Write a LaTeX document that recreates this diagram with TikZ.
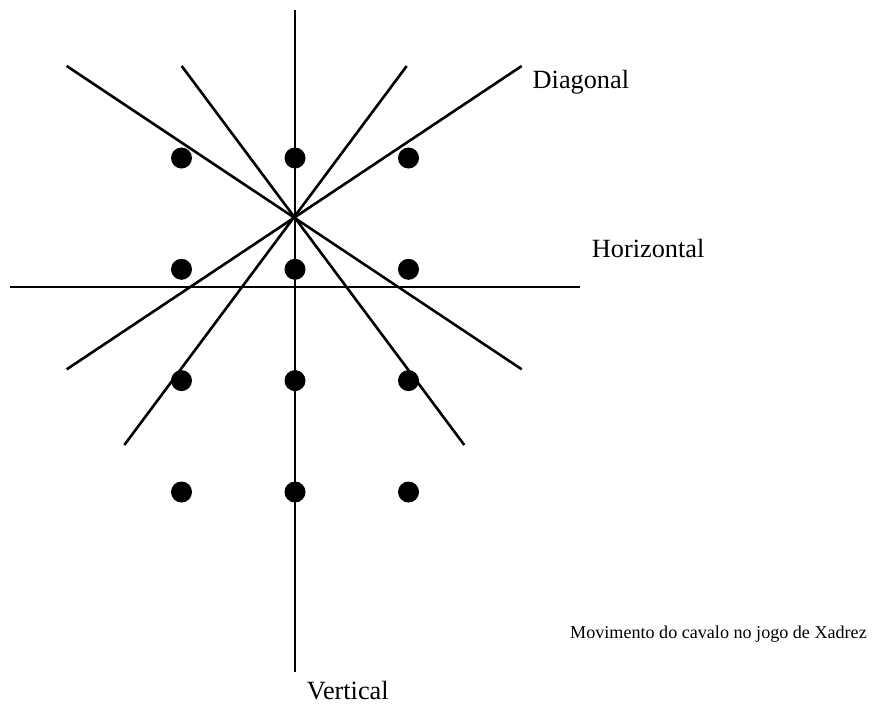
\documentclass[tikz,border=0pt]{standalone}
\usepackage{fontspec}
\setmainfont{Liberation Serif}
\begin{document}
\begin{tikzpicture}[x=1pt,y=-1pt,
  ray/.style={line width=2.6pt,line cap=butt},
  dot/.style={circle,fill=black,inner sep=0pt,minimum size=21pt},
  lbl/.style={anchor=base west,inner sep=0pt,font=\fontsize{26.3}{30}\selectfont},
  captiontext/.style={anchor=base west,inner sep=0pt,font=\fontsize{18.1}{22}\selectfont}]
\useasboundingbox (0,0) rectangle (880,707);
% end points
\coordinate (c) at (295,217);
\coordinate (vT) at (295,10);
\coordinate (vB) at (295,672);
\coordinate (hL) at (10,287);
\coordinate (hR) at (580,287);
\coordinate (aT) at (66.7,66);
\coordinate (aB) at (521.7,369.3);
\coordinate (bT) at (521.7,66);
\coordinate (bB) at (66.7,369.3);
\coordinate (dT) at (181.7,66);
\coordinate (dB) at (464.3,445);
\coordinate (eT) at (406.7,66);
\coordinate (eB) at (124.3,445);
% lines
\draw[ray] (vT) -- (vB);
\draw[ray] (hL) -- (hR);
\draw[ray] (aT) -- (aB);
\draw[ray] (bT) -- (bB);
\draw[ray] (dT) -- (dB);
\draw[ray] (eT) -- (eB);
% dots
\foreach \r/\y in {1/158,2/269.3,3/380.6,4/492}{
  \foreach \k/\x in {1/181.5,2/295,3/408.5}{
    \node[dot] (p\r\k) at (\x,\y) {};
  }
}
% labels
\node[lbl] (diag) at (532.5,88) {Diagonal};
\node[lbl] (horiz) at (591.7,257) {Horizontal};
\node[lbl] (vert) at (306.7,699) {Vertical};
\node[captiontext] (movim) at (570,638.5) {Movimento do cavalo no jogo de Xadrez};
\end{tikzpicture}
\end{document}
